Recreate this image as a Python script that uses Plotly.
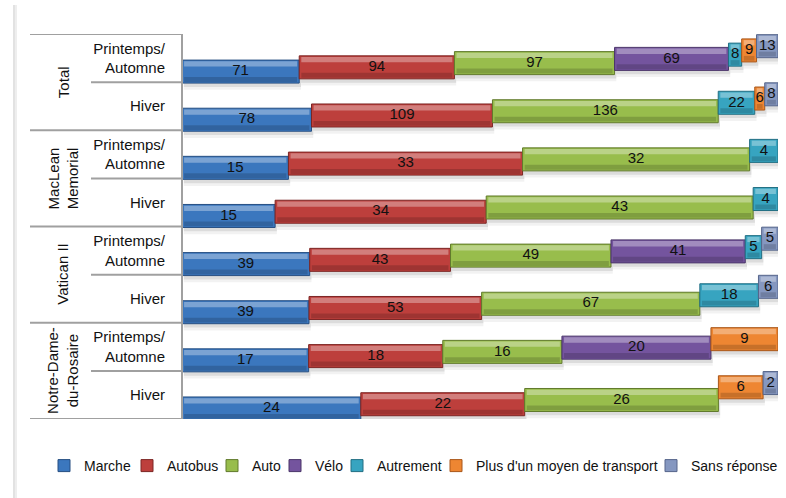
import numpy as np
import plotly.graph_objects as go

# Rows, top to bottom
groups = ["Total", "MacLean<br>Memorial", "Vatican II", "Notre-Dame-<br>du-Rosaire"]
seasons = ["Printemps/<br>Automne", "Hiver"]

# Number of respondents per mode of transport (0 = none)
marche = [71, 78, 15, 15, 39, 39, 17, 24]
autobus = [94, 109, 33, 34, 43, 53, 18, 22]
auto = [97, 136, 32, 43, 49, 67, 16, 26]
velo = [69, 0, 0, 0, 41, 0, 20, 0]
autrement = [8, 22, 4, 4, 5, 18, 0, 0]
plus_un = [9, 6, 0, 0, 0, 0, 9, 6]
sans_reponse = [13, 8, 0, 0, 5, 6, 0, 2]

series_names = ["Marche", "Autobus", "Auto", "Vélo", "Autrement",
                "Plus d'un moyen de transport", "Sans réponse"]
series_values = [marche, autobus, auto, velo, autrement, plus_un, sans_reponse]

colors = ["#3b77be", "#bd3f3c", "#98bd4c", "#74549e", "#37a4c0", "#ee8632", "#8597c0"]
edges = ["#264f82", "#7c2624", "#617a2c", "#4a3569", "#226f83", "#a9571a", "#56658a"]

FONT = "Liberation Sans, Arial, sans-serif"
TXT = "#111111"

vals = np.array(series_values, dtype=float)          # series x rows
pct = vals / vals.sum(axis=0) * 100.0
bases = np.vstack([np.zeros(vals.shape[1]), np.cumsum(pct, axis=0)[:-1]])
rows = np.arange(vals.shape[1])

W = 0.478          # bar thickness (category units)
C0 = 0.281         # centre offset of first series below row centre
STEP = 0.088       # each following series is lifted by this amount

PLOT_L, PLOT_W = 182, 596


def px_to_paper(px):
    return (px - PLOT_L) / PLOT_W


def seg(i, arr):
    return [None if v == 0 else a for v, a in zip(vals[i], arr)]


fig = go.Figure()

# soft shadows under every segment
for i in range(len(series_names)):
    c = C0 - STEP * i
    for dy, extra, alpha in [(0.10, 0.08, 0.05), (0.065, 0.03, 0.09)]:
        fig.add_trace(go.Bar(
            y=rows, x=seg(i, pct[i]), base=bases[i] + 0.3, orientation="h",
            width=W + extra, offset=c - (W + extra) / 2 + dy,
            marker=dict(color=f"rgba(0,0,0,{alpha})", line=dict(width=0)),
            showlegend=False, hoverinfo="skip"))

# main segments, one legend box per series
for i, name in enumerate(series_names):
    c = C0 - STEP * i
    fig.add_trace(go.Bar(
        y=rows, x=seg(i, pct[i]), base=bases[i], orientation="h", name=name,
        width=W, offset=c - W / 2,
        marker=dict(color=colors[i], line=dict(color=edges[i], width=1)),
        legend="legend" if i == 0 else f"legend{i + 1}",
        hoverinfo="skip"))

# bevel: light top edge and dark bottom edge
for i, name in enumerate(series_names):
    c = C0 - STEP * i
    inset = 0.35
    fig.add_trace(go.Bar(
        y=rows, x=seg(i, pct[i] - 2 * inset), base=bases[i] + inset, orientation="h",
        width=0.11, offset=c - W / 2 + 0.025,
        marker=dict(color="rgba(255,255,255,0.33)", line=dict(width=0)),
        showlegend=False, hoverinfo="skip"))
    fig.add_trace(go.Bar(
        y=rows, x=seg(i, pct[i] - 2 * inset), base=bases[i] + inset, orientation="h",
        width=0.1, offset=c + W / 2 - 0.125,
        marker=dict(color="rgba(0,0,0,0.16)", line=dict(width=0)),
        showlegend=False, hoverinfo="skip"))

# value labels at the middle of each segment
for i, name in enumerate(series_names):
    c = C0 - STEP * i
    fig.add_trace(go.Scatter(
        y=rows + c, x=seg(i, bases[i] + pct[i] / 2), mode="text",
        text=[str(int(v)) if v else "" for v in vals[i]],
        textposition="middle center", cliponaxis=False,
        textfont=dict(family=FONT, size=15, color=TXT),
        showlegend=False, hoverinfo="skip"))

shapes = []
line_col = "#a0a0a0"
# outer group separators
for yb in [-0.5, 1.5, 3.5, 5.5, 7.5]:
    shapes.append(dict(type="line", xref="paper", yref="y",
                       x0=px_to_paper(30), x1=0, y0=yb, y1=yb,
                       line=dict(color=line_col, width=2)))
# season separators inside each group
for yb in [0.5, 2.5, 4.5, 6.5]:
    shapes.append(dict(type="line", xref="paper", yref="y",
                       x0=px_to_paper(91), x1=0, y0=yb, y1=yb,
                       line=dict(color=line_col, width=2)))
# vertical category axis line
shapes.append(dict(type="line", xref="paper", yref="y", x0=0, x1=0,
                   y0=-0.5, y1=7.5, line=dict(color=line_col, width=2)))
# faint frame edge on the left
for xp, col in [(14, "#e2e2e2"), (16, "#eeeeee")]:
    shapes.append(dict(type="line", xref="paper", yref="paper",
                       x0=px_to_paper(xp), x1=px_to_paper(xp),
                       y0=(419 - 5) / 385, y1=-(498 - 419) / 385,
                       line=dict(color=col, width=2)))

annotations = []
for g, name in enumerate(groups):
    annotations.append(dict(
        text=name, xref="paper", yref="y", x=px_to_paper(63), y=2 * g + 0.5,
        textangle=-90, showarrow=False, xanchor="center", yanchor="middle",
        align="center", font=dict(family=FONT, size=15, color=TXT)))

# legend entries laid out in one row below the plot (left edge of each label, px)
legend_text_x = [84, 167, 252, 315, 377, 476, 691]
legend_y = -(466 - 419) / 385
legends = {}
for i, tx in enumerate(legend_text_x):
    key = "legend" if i == 0 else f"legend{i + 1}"
    legends[key] = dict(orientation="h", x=px_to_paper(tx - 40), xanchor="left",
                        y=legend_y, yanchor="middle", itemwidth=30,
                        font=dict(family=FONT, size=14, color=TXT),
                        bgcolor="rgba(0,0,0,0)", borderwidth=0)

fig.update_layout(
    width=786, height=498,
    margin=dict(l=182, r=8, t=34, b=79, autoexpand=False),
    paper_bgcolor="white", plot_bgcolor="white",
    barmode="overlay",
    font=dict(family=FONT, size=15, color=TXT),
    xaxis=dict(range=[0, 100], visible=False, fixedrange=True),
    yaxis=dict(range=[7.5, -0.5], tickmode="array", tickvals=list(rows),
               ticktext=seasons * len(groups), showgrid=False, zeroline=False,
               showline=False, ticks="", ticklabelstandoff=16,
               tickfont=dict(family=FONT, size=15, color=TXT)),
    shapes=shapes, annotations=annotations,
    showlegend=True,
    **legends,
)

fig.write_html("out.html")
